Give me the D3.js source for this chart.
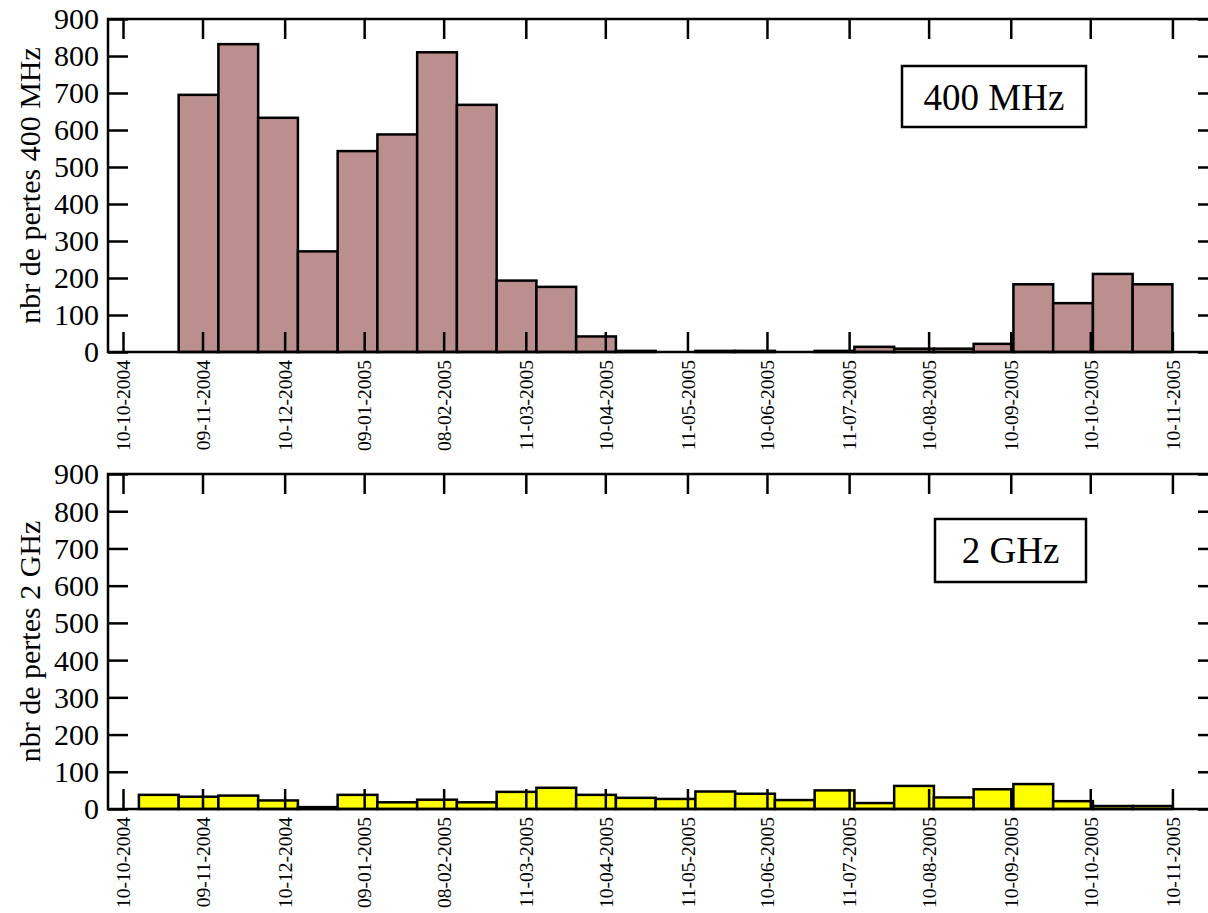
<!DOCTYPE html>
<html>
<head>
<meta charset="utf-8">
<script src="https://cdn.jsdelivr.net/npm/d3@7"></script>
<style>
    html, body { margin: 0; padding: 0; background: #fff; }
    svg { display: block; font-family: "Liberation Serif", "DejaVu Serif", serif; }
    .tick line { stroke: #000; stroke-width: 2.5; }
    .frame { fill: none; stroke: #000; stroke-width: 2.5; }
    .bar { stroke: #000; stroke-width: 2.5; }
</style>
</head>
<body>
<div id="chart"></div>
<script>
// x tick labels (dd-mm-yyyy)
const tickLabels = [
    '10-10-2004', '09-11-2004', '10-12-2004', '09-01-2005', '08-02-2005',
    '11-03-2005', '10-04-2005', '11-05-2005', '10-06-2005', '11-07-2005',
    '10-08-2005', '10-09-2005', '10-10-2005', '10-11-2005',
];

// histogram bin edges (15 day bins), 27 edges for 26 bins
const binEdges = [
    '16-10-2004', '31-10-2004', '15-11-2004', '30-11-2004', '15-12-2004',
    '30-12-2004', '14-01-2005', '29-01-2005', '13-02-2005', '28-02-2005',
    '15-03-2005', '30-03-2005', '14-04-2005', '29-04-2005', '14-05-2005',
    '29-05-2005', '13-06-2005', '28-06-2005', '13-07-2005', '28-07-2005',
    '12-08-2005', '27-08-2005', '11-09-2005', '26-09-2005', '11-10-2005',
    '26-10-2005', '10-11-2005',
];

const losses400 = [
    0, 695, 832, 633, 272, 543, 588, 810, 668, 193, 176, 42, 3,
    0, 3, 3, 0, 3, 14, 9, 9, 22, 183, 132, 211, 183,
];

const losses2g = [
    38, 33, 36, 23, 5, 38, 18, 25, 18, 46, 57, 38, 30,
    27, 47, 41, 24, 50, 16, 62, 31, 53, 67, 21, 8, 8,
];

const yTicks = [0, 100, 200, 300, 400, 500, 600, 700, 800, 900];

const WIDTH = 1208, HEIGHT = 913;
const LEFT = 108, RIGHT = 1218;
const TICK = 20;
const DAY = 864e5;

const parse = d3.utcParse('%d-%m-%Y');
const origin = parse(tickLabels[0]).getTime();

const x = d3.scaleUtc()
    .domain([new Date(origin - 5.66 * DAY), new Date(origin + 413.2 * DAY)])
    .range([LEFT, RIGHT]);

const svg = d3.select('#chart')
    .append('svg')
    .attr('width', WIDTH)
    .attr('height', HEIGHT);

function drawPanel(cfg) {
    const { top, bottom, values, fill, yLabel, legend } = cfg;
    const y = d3.scaleLinear().domain([0, 900]).range([bottom, top]);
    const g = svg.append('g');

    const bins = values.map((v, i) => ({
        x0: parse(binEdges[i]),
        x1: parse(binEdges[i + 1]),
        value: v,
    }));

    g.append('g')
        .selectAll('rect')
        .data(bins)
        .enter()
        .append('rect')
        .attr('class', 'bar')
        .attr('x', d => x(d.x0))
        .attr('y', d => y(d.value))
        .attr('width', d => x(d.x1) - x(d.x0))
        .attr('height', d => y(0) - y(d.value))
        .attr('fill', fill);

    // inward ticks on all four sides
    const tickDates = tickLabels.map(parse);

    const xBottom = g.append('g')
        .attr('transform', `translate(0,${bottom})`)
        .call(d3.axisBottom(x)
            .tickValues(tickDates)
            .tickSize(-TICK)
            .tickSizeOuter(0)
            .tickFormat((d, i) => tickLabels[i]));
    xBottom.select('.domain').remove();
    xBottom.selectAll('text')
        .attr('transform', 'rotate(-90)')
        .attr('x', -8)
        .attr('y', 0)
        .attr('dy', '0.35em')
        .attr('text-anchor', 'end')
        .attr('fill', '#000')
        .style('font-size', '19.5px')
        .style('font-family', '"Liberation Serif", serif');

    const xTop = g.append('g')
        .attr('transform', `translate(0,${top})`)
        .call(d3.axisTop(x).tickValues(tickDates).tickSize(-TICK).tickSizeOuter(0).tickFormat(''));
    xTop.select('.domain').remove();

    const yLeft = g.append('g')
        .attr('transform', `translate(${LEFT},0)`)
        .call(d3.axisLeft(y).tickValues(yTicks).tickSize(-TICK).tickSizeOuter(0).tickPadding(9));
    yLeft.select('.domain').remove();
    yLeft.selectAll('text')
        .attr('dy', '0.33em')
        .attr('fill', '#000')
        .style('font-size', '30px')
        .style('font-family', '"Liberation Serif", serif');

    const yRight = g.append('g')
        .attr('transform', `translate(${RIGHT},0)`)
        .call(d3.axisRight(y).tickValues(yTicks).tickSize(-TICK).tickSizeOuter(0).tickFormat(''));
    yRight.select('.domain').remove();

    g.append('rect')
        .attr('class', 'frame')
        .attr('x', LEFT)
        .attr('y', top)
        .attr('width', RIGHT - LEFT)
        .attr('height', bottom - top);

    g.append('text')
        .attr('transform', `translate(40,${(top + bottom) / 2}) rotate(-90)`)
        .attr('text-anchor', 'middle')
        .style('font-size', '30px')
        .text(yLabel);

    g.append('rect')
        .attr('x', legend.x)
        .attr('y', legend.y)
        .attr('width', legend.w)
        .attr('height', legend.h)
        .attr('fill', '#fff')
        .attr('stroke', '#000')
        .attr('stroke-width', 2.5);

    g.append('text')
        .attr('x', legend.x + legend.w / 2)
        .attr('y', legend.y + 44)
        .attr('text-anchor', 'middle')
        .style('font-size', '37px')
        .text(legend.text);
}

drawPanel({
    top: 19, bottom: 352,
    values: losses400,
    fill: '#bc8f8f',
    yLabel: 'nbr de pertes 400 MHz',
    legend: { x: 902, y: 66, w: 184, h: 61, text: '400 MHz' },
});

drawPanel({
    top: 474, bottom: 809,
    values: losses2g,
    fill: '#ffff00',
    yLabel: 'nbr de pertes 2 GHz',
    legend: { x: 935, y: 519, w: 151, h: 63, text: '2 GHz' },
});
</script>
</body>
</html>
